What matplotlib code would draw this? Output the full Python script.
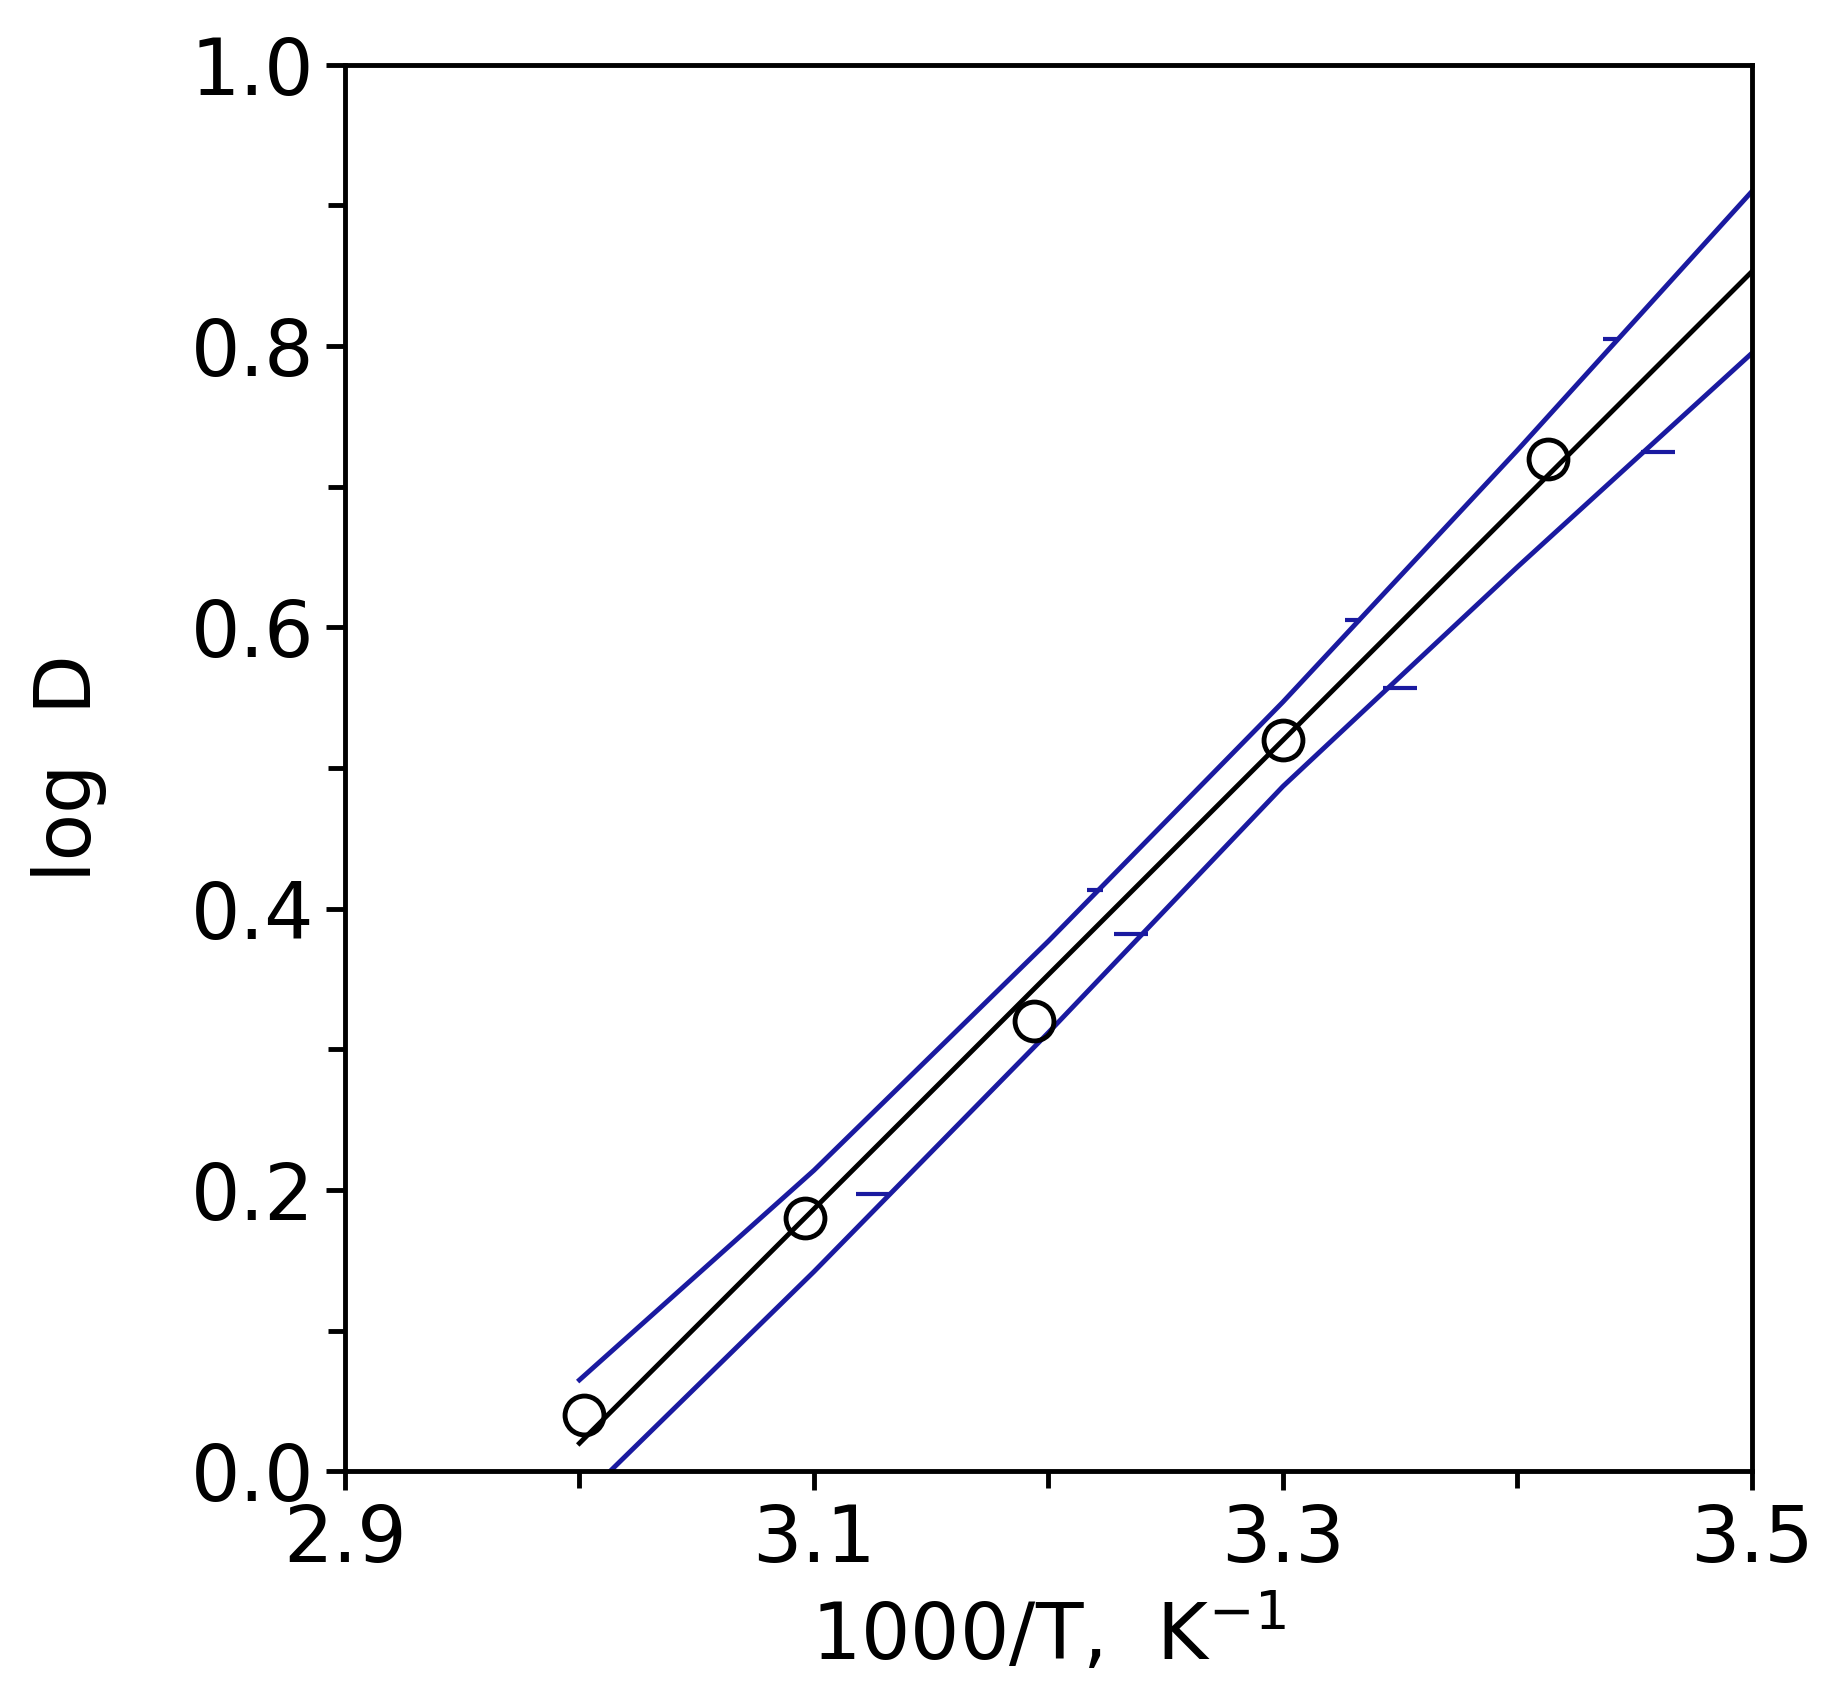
import matplotlib
matplotlib.use("Agg")
import matplotlib.pyplot as plt
import numpy as np

x_pts = [3.002, 3.096, 3.194, 3.300, 3.413]
y_pts = [0.04, 0.18, 0.32, 0.52, 0.72]
fit_x = [3.0, 3.5]
fit_y = [0.02, 0.853]
upper_x = [3.0, 3.1, 3.2, 3.3, 3.4, 3.5]
upper_y = [0.065, 0.214, 0.377, 0.547, 0.726, 0.91]
lower_x = [3.013, 3.1, 3.2, 3.3, 3.4, 3.5]
lower_y = [0.0, 0.142, 0.312, 0.487, 0.643, 0.795]
tick_lower_x = [3.125, 3.235, 3.35, 3.46]
tick_lower_y = [0.197, 0.382, 0.557, 0.725]
tick_upper_x = [3.22, 3.33, 3.44]
tick_upper_y = [0.413, 0.605, 0.805]

fig = plt.figure(figsize=(18.25, 17.03), dpi=100)
ax = fig.add_axes([0.189, 0.136, 0.771, 0.826])
blue = "#1a1aa0"
ax.plot(upper_x, upper_y, color=blue, lw=3.5)
ax.plot(lower_x, lower_y, color=blue, lw=3.5)
ax.plot(fit_x, fit_y, color="black", lw=3.5)
ax.plot(tick_lower_x, tick_lower_y, ls="none", marker="_", ms=25, mew=3, color=blue)
ax.plot(tick_upper_x, tick_upper_y, ls="none", marker="_", ms=12, mew=3, color=blue)
ax.plot(x_pts, y_pts, ls="none", marker="o", ms=28, mfc="none", mec="black", mew=3.5)

ax.set_xlim(2.9, 3.5)
ax.set_ylim(0.0, 1.0)
ax.set_xticks([2.9, 3.1, 3.3, 3.5])
ax.set_xticks([3.0, 3.2, 3.4], minor=True)
ax.set_yticks([0.0, 0.2, 0.4, 0.6, 0.8, 1.0])
ax.set_yticks([0.1, 0.3, 0.5, 0.7, 0.9], minor=True)
ax.set_yticklabels(["0.0", "0.2", "0.4", "0.6", "0.8", "1.0"])
ax.tick_params(which="both", direction="out", width=3.5, labelsize=56, pad=8)
ax.tick_params(which="major", length=14)
ax.tick_params(which="minor", length=12)
for s in ax.spines.values():
    s.set_linewidth(3.5)
ax.set_xlabel("1000/T,  K$^{-1}$", fontsize=56, labelpad=10)
ax.set_ylabel("log  D", fontsize=56, labelpad=60)
fig.savefig("out.png", dpi=100)
